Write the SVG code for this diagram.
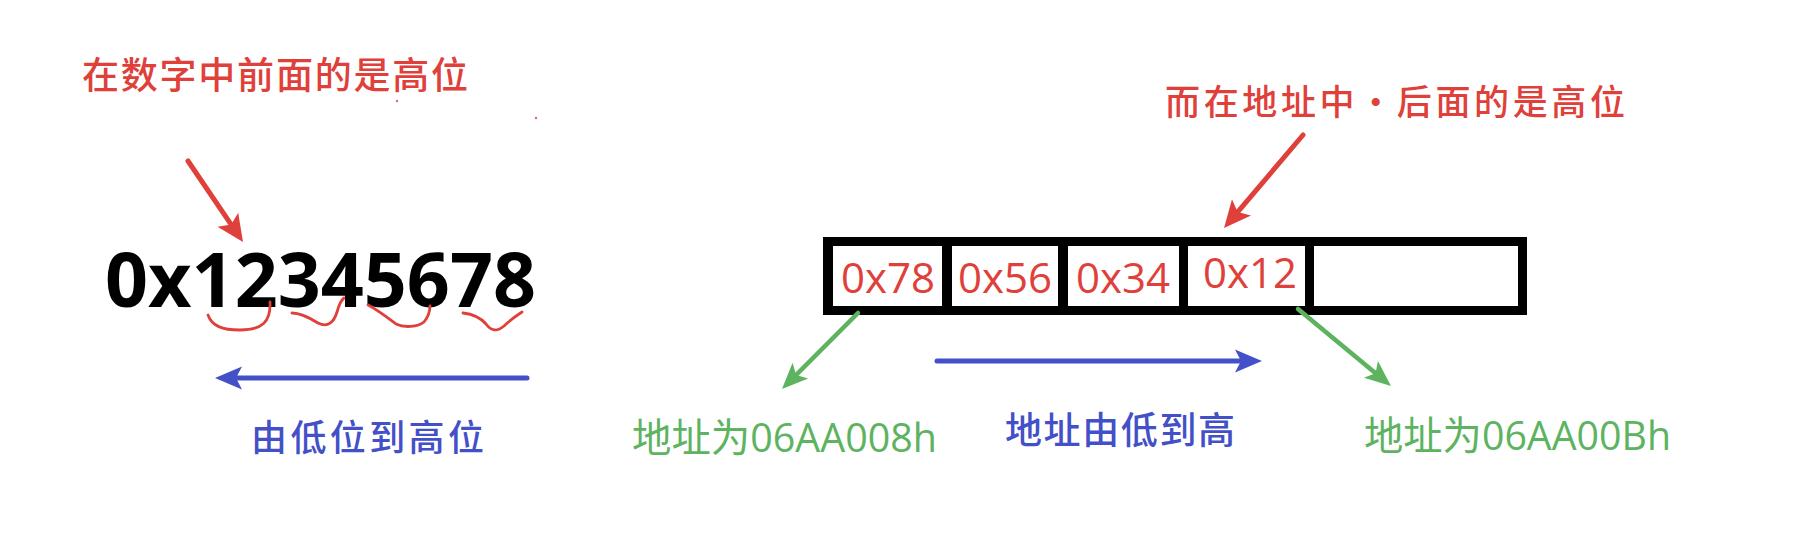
<svg xmlns="http://www.w3.org/2000/svg" width="1800" height="544" viewBox="0 0 1800 544">
<defs>
<style>
.cjk{font-family:"Noto Sans CJK SC","Noto Sans",sans-serif;font-weight:500;}
.lat{font-family:"Open Sans","Noto Sans CJK SC",sans-serif;}
.red{fill:#E0403A;}
.blue{fill:#4450C8;}
.green{fill:#5DB35F;}
.cell{fill:#ffffff;}
.ln{fill:none;stroke-linecap:round;}
.lr{stroke:#E0403A;stroke-width:5;}
.lb{stroke:#4450C8;stroke-width:5;}
.lg{stroke:#5DB35F;stroke-width:4.5;}
.curl{fill:none;stroke:#E0403A;stroke-width:2.8;stroke-linecap:round;stroke-linejoin:round;}
</style>
<marker id="ahR" markerUnits="userSpaceOnUse" orient="auto" refX="0" refY="0" markerWidth="40" markerHeight="40" overflow="visible"><path d="M18,0 L-9,-12.5 L-3,0 L-9,12.5 Z" fill="#E0403A"/></marker>
<marker id="ahB" markerUnits="userSpaceOnUse" orient="auto" refX="0" refY="0" markerWidth="40" markerHeight="40" overflow="visible"><path d="M18,0 L-9,-11.5 L-3,0 L-9,11.5 Z" fill="#4450C8"/></marker>
<marker id="ahG" markerUnits="userSpaceOnUse" orient="auto" refX="0" refY="0" markerWidth="40" markerHeight="40" overflow="visible"><path d="M18,0 L-8,-11 L-2,0 L-8,11 Z" fill="#5DB35F"/></marker>
</defs>
<rect x="0" y="0" width="1800" height="544" fill="#ffffff"/>

<g id="label-number-high">
<text class="cjk red" x="82" y="89" font-size="37" textLength="386" lengthAdjust="spacing">在数字中前面的是高位</text>
<circle cx="397" cy="101" r="1.2" fill="#E06A60"/>
<circle cx="536" cy="118" r="1.2" fill="#E06A60"/>
</g>

<g id="number">
<text class="lat" x="105" y="307" font-size="75" font-weight="700" fill="#000000" textLength="431" lengthAdjust="spacingAndGlyphs">0x12345678</text>
<path class="curl" d="M208,315 C212,326 222,330 240,330 C262,330 271,322 270,302"/>
<path class="curl" d="M292,313 C300,313 310,318 318,323 C328,328 334,322 337,312 C339,305 341,300 344,298"/>
<path class="curl" d="M368,305 C378,310 388,318 396,324 C404,328 418,327 424,322 C428,317 430,312 430,306"/>
<path class="curl" d="M463,313 C472,314 480,317 486,324 C491,331 497,332 504,326 C510,320 516,316 522,312"/>
</g>

<g id="label-low-to-high">
<text class="cjk blue" x="251" y="451" font-size="36" textLength="233" lengthAdjust="spacing">由低位到高位</text>
</g>

<g id="label-address-high">
<text class="cjk red" x="1165" y="115" font-size="35" textLength="460" lengthAdjust="spacing">而在地址中・后面的是高位</text>
</g>

<g id="memory">
<rect x="823" y="237" width="704" height="78" fill="#000000"/>
<g id="cell-78"><rect class="cell" x="833" y="246" width="109" height="60"/><text class="lat red" x="841" y="293" font-size="42">0x78</text></g>
<g id="cell-56"><rect class="cell" x="952" y="246" width="106" height="60"/><text class="lat red" x="958" y="293" font-size="42">0x56</text></g>
<g id="cell-34"><rect class="cell" x="1068" y="246" width="111" height="60"/><text class="lat red" x="1076" y="293" font-size="42">0x34</text></g>
<g id="cell-12"><rect class="cell" x="1188" y="246" width="117" height="60"/><text class="lat red" x="1203" y="288" font-size="42">0x12</text></g>
<g id="cell-empty"><rect class="cell" x="1314" y="246" width="204" height="60"/></g>
</g>

<g id="label-addr-008">
<text class="lat green" x="632" y="452" font-size="40" textLength="305" lengthAdjust="spacingAndGlyphs">地址为06AA008h</text>
</g>

<g id="label-addr-up">
<text class="cjk blue" x="1005" y="444" font-size="37" textLength="230" lengthAdjust="spacing">地址由低到高</text>
</g>

<g id="label-addr-00B">
<text class="lat green" x="1364" y="450" font-size="40" textLength="307" lengthAdjust="spacingAndGlyphs">地址为06AA00Bh</text>
</g>

<g id="connectors">
<line class="ln lr" x1="188" y1="161" x2="232.9" y2="227.1" marker-end="url(#ahR)"/>
<line class="ln lr" x1="1303" y1="135" x2="1235.7" y2="214.3" marker-end="url(#ahR)"/>
<line class="ln lb" x1="527" y1="378" x2="233" y2="378" marker-end="url(#ahB)"/>
<line class="ln lb" x1="937" y1="361" x2="1244" y2="361" marker-end="url(#ahB)"/>
<line class="ln lg" x1="858" y1="313" x2="794.7" y2="376.3" marker-end="url(#ahG)"/>
<line class="ln lg" x1="1298" y1="309" x2="1377.1" y2="374.5" marker-end="url(#ahG)"/>
</g>
</svg>
